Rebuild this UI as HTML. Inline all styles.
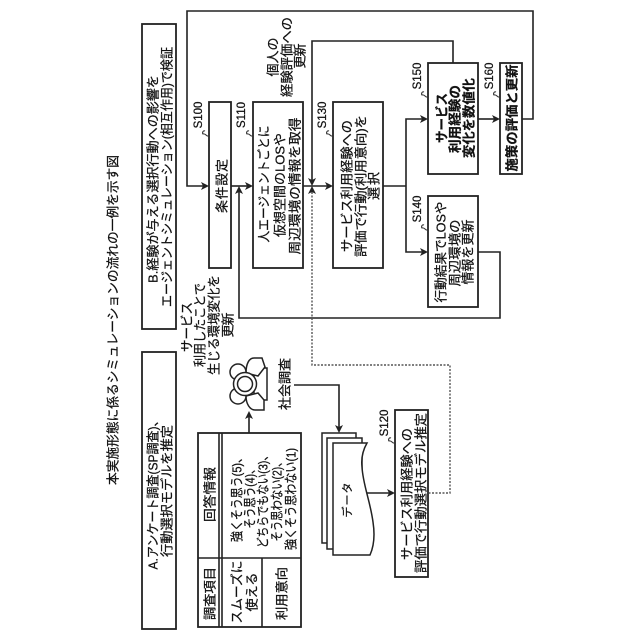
<!DOCTYPE html>
<html lang="ja">
<head>
<meta charset="utf-8">
<title>シミュレーションの流れ</title>
<style>
html,body{margin:0;padding:0;background:#fff;width:640px;height:640px;overflow:hidden}
svg{display:block}
text{font-family:"Liberation Sans","Noto Sans CJK JP",sans-serif;font-size:13px;fill:#111;stroke:#111;stroke-width:.25;text-anchor:middle;dominant-baseline:central}
.b{font-weight:700}
.s{font-size:11.5px}
.box{fill:#fff;stroke:#222;stroke-width:1.8}
.ln{fill:none;stroke:#222;stroke-width:1.6}
.ic{fill:#fff;stroke:#222;stroke-width:1.5}
.th{fill:none;stroke:#333;stroke-width:1.1}
.da{fill:none;stroke:#555;stroke-width:1.4;stroke-dasharray:2 1.5}
.ah{fill:#222;stroke:none}
</style>
</head>
<body>
<svg width="640" height="640" viewBox="0 0 640 640" xmlns="http://www.w3.org/2000/svg">
<!-- boxes -->
<rect class="box" x="142" y="24" width="34" height="305"/>
<rect class="box" x="142" y="352" width="34" height="277"/>
<rect class="box" x="209" y="102" width="22" height="166"/>
<rect class="box" x="253" y="102" width="50" height="166"/>
<rect class="box" x="333" y="102" width="50" height="166"/>
<rect class="box" x="428" y="63" width="50" height="111"/>
<rect class="box" x="500" y="63" width="22" height="111"/>
<rect class="box" x="428" y="196" width="50" height="111"/>
<rect class="box" x="395" y="410" width="33" height="167"/>
<!-- table -->
<rect class="box" x="198" y="433" width="103" height="194"/>
<path class="ln" d="M219 433V627M222 433V627M198 558H301M262 558V627"/>
<!-- connectors -->
<path class="ln" d="M522 119H533V11H187V186H203"/>
<path class="ln" d="M453 63V41H312V180"/>
<path class="ln" d="M231 186H247"/>
<path class="ln" d="M239 192V318H500V252H478"/>
<path class="ln" d="M303 186H327"/>
<path class="ln" d="M383 186H406M422 119H406V252H422"/>
<path class="ln" d="M478 119H494"/>
<path class="da" d="M312 192V365H450V493H428"/>
<path class="ln" d="M294 385H339V427"/>
<path class="ln" d="M367 493H389"/>
<path class="ln" d="M249 433V417"/>
<!-- arrowheads -->
<path class="ah" d="M209 186L201 182L203 186L201 190Z"/>
<path class="ah" d="M253 186L245 182L247 186L245 190Z"/>
<path class="ah" d="M333 186L325 182L327 186L325 190Z"/>
<path class="ah" d="M428 119L420 115L422 119L420 123Z"/>
<path class="ah" d="M428 252L420 248L422 252L420 256Z"/>
<path class="ah" d="M500 119L492 115L494 119L492 123Z"/>
<path class="ah" d="M395 493L387 489L389 493L387 497Z"/>
<path class="ah" d="M239 186L235 194L239 192L243 194Z"/>
<path class="ah" d="M312 186L308 178L312 180L316 178Z"/>
<path class="ah" d="M312 186L308 194L312 192L316 194Z"/>
<path class="ah" d="M339 433L335 425L339 427L343 425Z"/>
<path class="ah" d="M249 411L245 419L249 417L253 419Z"/>
<!-- documents -->
<rect class="ic" x="322" y="433" width="34" height="110"/>
<rect class="ic" x="327" y="438" width="35" height="111"/>
<path class="ic" d="M333 443H367C363 450 361 458 362 467C363 485 370 500 373 522C375 535 374 546 370 555H333Z"/>
<!-- person icon -->
<rect class="ic" x="254" y="368" width="13" height="32"/>
<path class="ic" d="M246 373C246 364 249 358 254 358H262L265 367L258 376Z"/>
<path class="ic" d="M246 396C246 404 250 410 255 410H264L264 400L258 393Z"/>
<circle class="ic" cx="238" cy="372" r="8"/>
<circle class="ic" cx="238" cy="396" r="8"/>
<circle class="ic" cx="245" cy="384" r="11.5"/>
<circle class="ic" cx="245" cy="384" r="7.5"/>
<!-- squiggles -->
<g class="th">
<path d="M209 136C206 137 206 133 203 134C202 133 203 130 205 131"/>
<path d="M253 136C250 137 250 133 247 134C246 133 247 130 249 131"/>
<path d="M333 136C330 137 330 133 327 134C326 133 327 130 329 131"/>
<path d="M428 97C425 98 425 94 422 95C421 94 422 91 424 92"/>
<path d="M500 97C497 98 497 94 494 95C493 94 494 91 496 92"/>
<path d="M428 230C425 231 425 227 422 228C421 227 422 224 424 225"/>
<path d="M395 443C392 444 392 440 389 441C388 440 389 437 391 438"/>
</g>
<!-- title -->
<text transform="translate(113,320) rotate(-90)" textLength="330" lengthAdjust="spacingAndGlyphs">本実施形態に係るシミュレーションの流れの一例を示す図</text>
<!-- B box -->
<text transform="translate(153,179) rotate(-90)" textLength="208" lengthAdjust="spacingAndGlyphs">B.経験が与える選択行動への影響を</text>
<text transform="translate(167,177) rotate(-90)" textLength="260" lengthAdjust="spacingAndGlyphs">エージェントシミュレーション(相互作用)で検証</text>
<!-- A box -->
<text transform="translate(153,492) rotate(-90)" textLength="155" lengthAdjust="spacingAndGlyphs">A.アンケート調査(SP調査)、</text>
<text transform="translate(167,491) rotate(-90)" textLength="132" lengthAdjust="spacingAndGlyphs">行動選択モデルを推定</text>
<!-- steps -->
<text transform="translate(222,186) rotate(-90)" textLength="54">条件設定</text>
<text transform="translate(264,184) rotate(-90)" textLength="117" lengthAdjust="spacingAndGlyphs">人エージェントごとに</text>
<text transform="translate(280,185) rotate(-90)" textLength="104" lengthAdjust="spacingAndGlyphs">仮想空間のLOSや</text>
<text transform="translate(295,186) rotate(-90)" textLength="137" lengthAdjust="spacingAndGlyphs">周辺環境の情報を取得</text>
<text transform="translate(347,186) rotate(-90)" textLength="132" lengthAdjust="spacingAndGlyphs">サービス利用経験への</text>
<text transform="translate(361,186) rotate(-90)" textLength="142" lengthAdjust="spacingAndGlyphs">評価で行動(利用意向)を</text>
<text transform="translate(374,186) rotate(-90)" textLength="28">選択</text>
<text class="b" transform="translate(442,118) rotate(-90)" textLength="50" lengthAdjust="spacingAndGlyphs">サービス</text>
<text class="b" transform="translate(455,119) rotate(-90)" textLength="68" lengthAdjust="spacingAndGlyphs">利用経験の</text>
<text class="b" transform="translate(469,118) rotate(-90)" textLength="80" lengthAdjust="spacingAndGlyphs">変化を数値化</text>
<text class="b" transform="translate(512,118) rotate(-90)" textLength="107" lengthAdjust="spacingAndGlyphs">施策の評価と更新</text>
<text transform="translate(441,252) rotate(-90)" textLength="101" lengthAdjust="spacingAndGlyphs">行動結果でLOSや</text>
<text transform="translate(455,253) rotate(-90)" textLength="67" lengthAdjust="spacingAndGlyphs">周辺環境の</text>
<text transform="translate(468,252) rotate(-90)" textLength="65" lengthAdjust="spacingAndGlyphs">情報を更新</text>
<text transform="translate(407,494) rotate(-90)" textLength="132" lengthAdjust="spacingAndGlyphs">サービス利用経験への</text>
<text transform="translate(421,493) rotate(-90)" textLength="160" lengthAdjust="spacingAndGlyphs">評価で行動選択モデル推定</text>
<!-- side labels -->
<text transform="translate(273,57) rotate(-90)" textLength="39">個人の</text>
<text transform="translate(287,57) rotate(-90)" textLength="80" lengthAdjust="spacingAndGlyphs">経験評価への</text>
<text transform="translate(300,56) rotate(-90)" textLength="25">更新</text>
<text transform="translate(187,327) rotate(-90)" textLength="50" lengthAdjust="spacingAndGlyphs">サービス</text>
<text transform="translate(200,325) rotate(-90)" textLength="84" lengthAdjust="spacingAndGlyphs">利用したことで</text>
<text transform="translate(214,325) rotate(-90)" textLength="100" lengthAdjust="spacingAndGlyphs">生じる環境変化を</text>
<text transform="translate(228,325) rotate(-90)" textLength="25">更新</text>
<text transform="translate(285,384) rotate(-90)" textLength="52" lengthAdjust="spacingAndGlyphs">社会調査</text>
<text transform="translate(348,500) rotate(-90)" textLength="35" style="font-size:11px">データ</text>
<!-- table text -->
<text transform="translate(210,593.5) rotate(-90)" textLength="53" lengthAdjust="spacingAndGlyphs">調査項目</text>
<text transform="translate(210,494.5) rotate(-90)" textLength="55" lengthAdjust="spacingAndGlyphs">回答情報</text>
<text transform="translate(237,592) rotate(-90)" textLength="63" lengthAdjust="spacingAndGlyphs">スムーズに</text>
<text transform="translate(252,592) rotate(-90)" textLength="39" lengthAdjust="spacingAndGlyphs">使える</text>
<text transform="translate(282,593.5) rotate(-90)" textLength="53" lengthAdjust="spacingAndGlyphs">利用意向</text>
<text transform="translate(237,497) rotate(-90)" textLength="90" lengthAdjust="spacingAndGlyphs">強くそう思う(5)、</text>
<text transform="translate(250,496) rotate(-90)" textLength="65" lengthAdjust="spacingAndGlyphs">そう思う(4)、</text>
<text transform="translate(263,499) rotate(-90)" textLength="98" lengthAdjust="spacingAndGlyphs">どちらでもない(3)、</text>
<text transform="translate(277,499) rotate(-90)" textLength="85" lengthAdjust="spacingAndGlyphs">そう思わない(2)、</text>
<text transform="translate(291,499) rotate(-90)" textLength="102" lengthAdjust="spacingAndGlyphs">強くそう思わない(1)</text>
<!-- step ids -->
<text class="s" transform="translate(199,115) rotate(-90)">S100</text>
<text class="s" transform="translate(242,115) rotate(-90)">S110</text>
<text class="s" transform="translate(323,115) rotate(-90)">S130</text>
<text class="s" transform="translate(418,76) rotate(-90)">S150</text>
<text class="s" transform="translate(490,76) rotate(-90)">S160</text>
<text class="s" transform="translate(418,209) rotate(-90)">S140</text>
<text class="s" transform="translate(385,423) rotate(-90)">S120</text>
</svg>
</body>
</html>
